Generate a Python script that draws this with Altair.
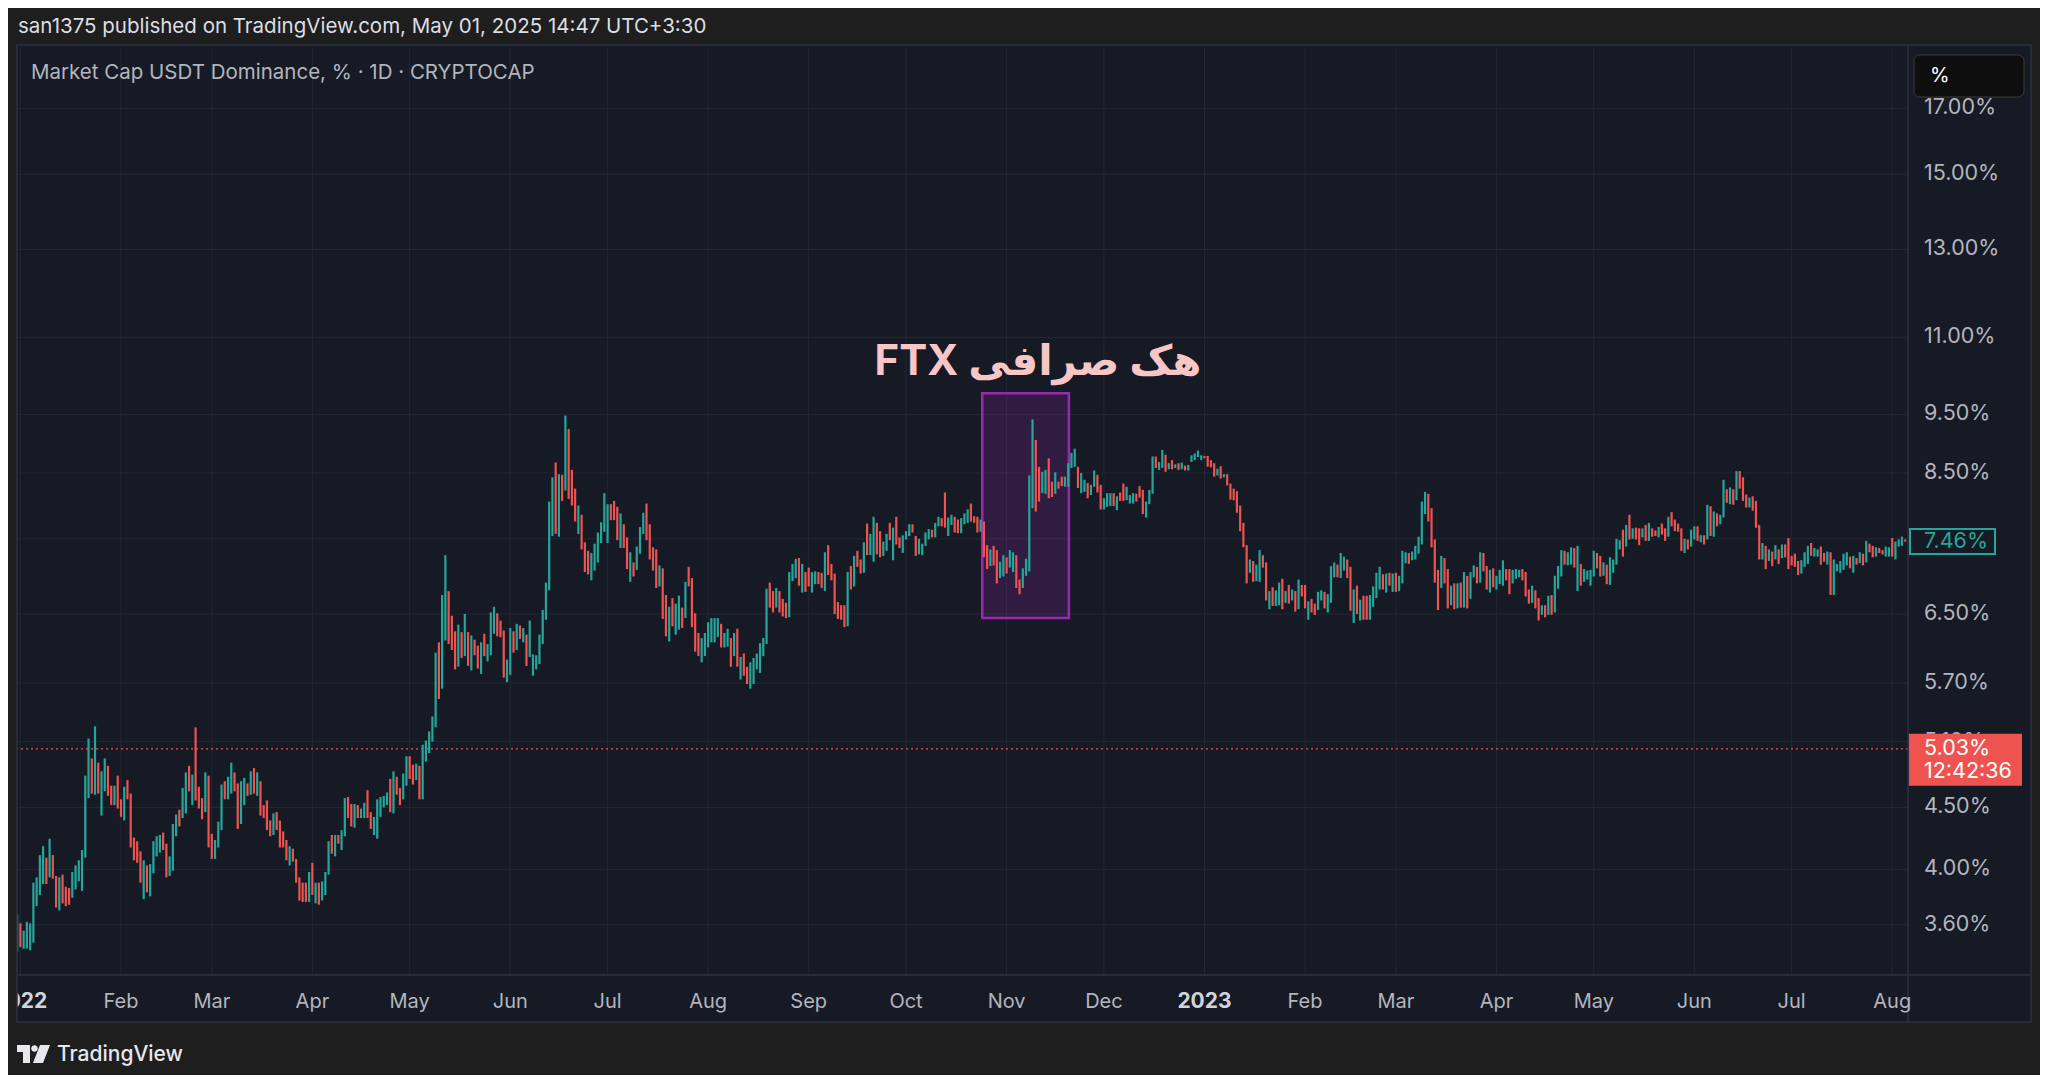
import altair as alt
import numpy as np
import pandas as pd

# ---------------- data: daily candles (open %, close %) ----------------
dec21 = [(3.42, 3.67)]
jan22 = [(3.61, 3.45), (3.44, 3.56), (3.44, 3.62), (3.43, 3.61), (3.48, 3.90), (3.73, 3.94), (3.81, 4.11),
         (3.89, 4.18), (4.09, 3.89), (3.94, 4.24), (4.11, 3.93), (3.95, 3.72), (3.70, 3.94), (3.96, 3.75),
         (3.87, 3.73), (3.86, 3.74), (3.79, 3.98), (3.85, 4.03), (3.91, 4.07), (3.84, 4.15), (4.09, 4.78),
         (4.58, 5.13), (4.94, 4.62), (4.61, 5.25), (4.90, 4.62), (4.43, 4.82), (4.64, 4.94), (4.87, 4.60),
         (4.69, 4.52), (4.52, 4.69), (4.78, 4.49)]
feb22 = [(4.57, 4.42), (4.39, 4.68), (4.74, 4.57), (4.62, 4.17), (4.25, 4.07), (4.22, 4.05), (4.14, 3.90),
         (3.78, 4.07), (4.03, 3.83), (3.80, 4.04), (3.97, 4.22), (4.10, 4.26), (4.13, 4.27), (4.29, 4.15),
         (4.20, 3.94), (3.95, 4.10), (3.99, 4.36), (4.26, 4.44), (4.48, 4.34), (4.41, 4.67), (4.45, 4.81),
         (4.87, 4.64), (4.52, 4.79), (5.24, 4.56), (4.68, 4.49), (4.58, 4.40), (4.46, 4.81), (4.78, 4.17)]
mar22 = [(4.28, 4.08), (4.08, 4.23), (4.17, 4.38), (4.31, 4.70), (4.73, 4.57), (4.57, 4.77), (4.62, 4.90),
         (4.81, 4.64), (4.71, 4.32), (4.36, 4.73), (4.52, 4.76), (4.71, 4.60), (4.61, 4.82), (4.85, 4.62),
         (4.60, 4.81), (4.73, 4.43), (4.52, 4.41), (4.56, 4.31), (4.39, 4.26), (4.27, 4.45), (4.46, 4.31),
         (4.39, 4.17), (4.30, 4.17), (4.23, 4.07), (4.03, 4.18), (4.16, 4.06), (4.08, 3.90), (3.94, 3.77),
         (3.90, 3.76), (3.90, 3.76), (3.76, 3.98)]
apr22 = [(4.05, 3.81), (3.75, 3.90), (3.90, 3.74), (3.77, 3.91), (3.81, 3.98), (3.96, 4.22), (4.27, 4.12),
         (4.10, 4.27), (4.27, 4.20), (4.15, 4.31), (4.26, 4.58), (4.59, 4.41), (4.53, 4.34), (4.33, 4.53),
         (4.52, 4.41), (4.41, 4.49), (4.41, 4.54), (4.65, 4.41), (4.46, 4.32), (4.27, 4.42), (4.24, 4.57),
         (4.42, 4.59), (4.50, 4.60), (4.52, 4.63), (4.75, 4.46), (4.45, 4.82), (4.77, 4.61), (4.67, 4.52),
         (4.57, 4.80), (4.69, 4.96)]
may22 = [(4.96, 4.75), (4.88, 4.70), (4.74, 4.89), (4.87, 4.57), (4.57, 5.07), (4.91, 5.11), (4.99, 5.20),
         (5.10, 5.35), (5.24, 6.04), (6.16, 5.53), (5.64, 6.74), (6.18, 7.27), (6.79, 6.14), (6.48, 6.07),
         (6.29, 5.85), (5.88, 6.37), (6.28, 5.98), (6.00, 6.50), (6.28, 5.89), (5.84, 6.24), (6.19, 6.01),
         (6.12, 5.86), (5.80, 6.16), (6.26, 6.00), (5.94, 6.14), (6.01, 6.52), (6.26, 6.59), (6.51, 6.23),
         (6.42, 6.22), (6.30, 5.76), (5.71, 5.96)]
jun22 = [(5.79, 6.33), (6.29, 6.04), (6.07, 6.38), (6.36, 6.20), (6.16, 6.33), (6.25, 5.89), (5.99, 6.42),
         (5.78, 6.02), (5.85, 6.01), (5.91, 6.25), (6.14, 6.55), (6.43, 6.90), (6.80, 8.05), (7.54, 8.43),
         (8.67, 7.57), (7.53, 8.48), (8.47, 8.06), (8.22, 9.48), (9.24, 8.09), (8.55, 7.99), (8.25, 7.75),
         (7.57, 7.99), (7.85, 7.35), (7.45, 7.04), (7.33, 7.01), (6.93, 7.30), (7.06, 7.43), (7.17, 7.59),
         (7.44, 7.74), (7.60, 8.18)]
jul22 = [(7.44, 8.01), (8.01, 7.77), (8.06, 7.77), (7.97, 7.48), (7.37, 7.87), (7.71, 7.37), (7.52, 7.08),
         (6.91, 7.31), (7.17, 6.98), (7.07, 7.39), (7.29, 7.67), (7.57, 7.88), (8.02, 7.48), (7.71, 7.21),
         (7.38, 7.06), (7.35, 6.83), (6.85, 7.13), (7.09, 6.44), (6.74, 6.23), (6.17, 6.59), (6.70, 6.35),
         (6.25, 6.63), (6.31, 6.73), (6.58, 6.33), (6.45, 6.91), (7.11, 6.85), (6.96, 6.34), (6.51, 6.05),
         (6.27, 6.00), (5.93, 6.21), (6.00, 6.27)]
aug22 = [(6.10, 6.40), (6.16, 6.45), (6.16, 6.45), (6.22, 6.45), (6.38, 6.10), (6.10, 6.27), (6.11, 6.32),
         (6.21, 5.88), (6.00, 6.27), (6.32, 5.88), (5.74, 5.99), (6.03, 5.78), (5.88, 5.69), (5.64, 5.93),
         (5.69, 5.98), (5.85, 6.03), (5.81, 6.15), (6.00, 6.21), (6.14, 6.82), (6.90, 6.58), (6.79, 6.52),
         (6.58, 6.83), (6.79, 6.52), (6.69, 6.47), (6.64, 6.45), (6.46, 7.04), (6.92, 7.15), (6.96, 7.22),
         (7.23, 6.86), (6.77, 7.15), (7.04, 6.78)]
sep22 = [(7.10, 6.85), (6.77, 7.04), (6.88, 7.05), (7.04, 6.88), (7.03, 6.83), (6.79, 7.31), (7.41, 7.00),
         (7.15, 6.93), (7.02, 6.50), (6.65, 6.44), (6.61, 6.43), (6.61, 6.34), (6.35, 7.04), (7.12, 6.81),
         (6.85, 7.26), (7.33, 7.11), (7.21, 7.02), (7.03, 7.45), (7.72, 7.27), (7.27, 7.57), (7.18, 7.82),
         (7.73, 7.28), (7.61, 7.24), (7.26, 7.46), (7.33, 7.57), (7.73, 7.48), (7.20, 7.66), (7.82, 7.42),
         (7.52, 7.37), (7.30, 7.55)]
oct22 = [(7.49, 7.61), (7.54, 7.71), (7.71, 7.59), (7.54, 7.26), (7.28, 7.50), (7.27, 7.43), (7.40, 7.59),
         (7.49, 7.64), (7.63, 7.52), (7.52, 7.73), (7.68, 7.82), (7.80, 7.68), (8.19, 7.66), (7.54, 7.81),
         (7.70, 7.85), (7.82, 7.59), (7.78, 7.58), (7.58, 7.80), (7.71, 7.87), (7.73, 7.93), (8.02, 7.75),
         (7.83, 7.73), (7.82, 7.59), (7.60, 7.78), (7.75, 7.24), (7.41, 7.08), (7.12, 7.35), (7.40, 7.13),
         (7.34, 6.89), (6.96, 7.18), (6.98, 7.27)]
nov22 = [(7.24, 7.02), (7.10, 7.34), (7.04, 7.31), (7.27, 6.83), (6.94, 6.75), (6.83, 7.09), (6.99, 7.22),
         (7.05, 8.46), (7.95, 9.41), (9.05, 7.90), (8.60, 8.05), (8.18, 8.52), (8.17, 8.55), (8.74, 8.10),
         (8.36, 8.12), (8.17, 8.51), (8.36, 8.25), (8.44, 8.29), (8.28, 8.44), (8.28, 8.66), (8.58, 8.83),
         (8.60, 8.90), (8.60, 8.26), (8.18, 8.50), (8.20, 8.39), (8.34, 8.10), (8.15, 8.31), (8.28, 8.54),
         (8.47, 8.19), (8.31, 7.93)]
dec22 = [(7.93, 8.10), (7.97, 8.18), (7.98, 8.18), (8.18, 7.98), (7.92, 8.13), (8.19, 8.06), (8.33, 8.06),
         (8.07, 8.28), (8.02, 8.15), (8.02, 8.18), (8.17, 8.05), (8.29, 8.11), (8.23, 7.86), (7.81, 8.05),
         (8.01, 8.23), (8.17, 8.77), (8.77, 8.58), (8.55, 8.68), (8.58, 8.88), (8.80, 8.52), (8.56, 8.66),
         (8.71, 8.56), (8.58, 8.64), (8.66, 8.55), (8.56, 8.67), (8.62, 8.54), (8.54, 8.63), (8.68, 8.79),
         (8.71, 8.82), (8.76, 8.87), (8.71, 8.79)]
jan23 = [(8.78, 8.74), (8.78, 8.60), (8.71, 8.59), (8.66, 8.44), (8.46, 8.57), (8.61, 8.41), (8.43, 8.48),
         (8.48, 8.30), (8.33, 8.08), (8.25, 8.07), (8.21, 7.88), (7.99, 7.61), (7.73, 7.38), (7.41, 6.89),
         (7.03, 7.21), (7.19, 6.91), (6.92, 7.14), (6.91, 7.34), (7.27, 7.10), (7.17, 6.67), (6.56, 6.79),
         (6.84, 6.60), (6.60, 6.80), (6.61, 6.90), (6.95, 6.56), (6.64, 6.79), (6.87, 6.63), (6.67, 6.81),
         (6.79, 6.53), (6.56, 6.94), (6.87, 6.72)]
feb23 = [(6.87, 6.57), (6.43, 6.66), (6.69, 6.52), (6.63, 6.49), (6.55, 6.78), (6.67, 6.80), (6.78, 6.57),
         (6.52, 6.75), (6.64, 7.12), (6.97, 7.17), (7.14, 6.97), (6.96, 7.30), (7.06, 7.25), (7.21, 6.96),
         (7.11, 6.54), (6.39, 6.81), (6.86, 6.50), (6.42, 6.68), (6.73, 6.43), (6.73, 6.43), (6.43, 6.74),
         (6.59, 6.85), (6.70, 7.03), (6.81, 7.11), (7.01, 6.81), (6.77, 7.02), (7.03, 6.86), (6.78, 7.02)]
mar23 = [(7.03, 6.78), (6.79, 6.99), (6.89, 7.33), (7.16, 7.31), (7.30, 7.15), (7.20, 7.32), (7.21, 7.40),
         (7.29, 7.53), (7.42, 8.05), (7.86, 8.20), (8.17, 7.75), (7.95, 7.38), (7.49, 6.90), (7.07, 6.55),
         (6.83, 7.26), (7.23, 6.89), (7.08, 6.57), (6.61, 6.86), (6.89, 6.56), (6.57, 6.89), (6.90, 6.58),
         (6.58, 7.04), (6.99, 6.57), (6.69, 7.04), (6.97, 7.13), (7.11, 6.89), (6.90, 7.31), (7.30, 7.05),
         (7.12, 6.81), (6.77, 7.07), (7.09, 6.84)]
apr23 = [(6.81, 6.99), (6.88, 7.07), (6.86, 7.20), (7.08, 6.93), (7.08, 6.75), (6.89, 7.07), (6.95, 7.08),
         (6.97, 7.07), (7.08, 6.93), (7.04, 6.72), (6.81, 6.63), (6.64, 6.86), (6.80, 6.57), (6.70, 6.42),
         (6.49, 6.61), (6.61, 6.46), (6.49, 6.73), (6.74, 6.49), (6.52, 6.99), (6.82, 7.12), (6.98, 7.34),
         (7.33, 7.14), (7.13, 7.31), (7.14, 7.38), (7.37, 7.10), (6.79, 7.40), (7.15, 6.86), (6.91, 7.08),
         (6.94, 7.06), (6.86, 7.07)]
may23 = [(6.98, 7.33), (7.30, 7.09), (7.26, 6.98), (6.99, 7.17), (7.14, 6.88), (6.87, 7.24), (7.03, 7.21),
         (7.14, 7.50), (7.35, 7.48), (7.63, 7.25), (7.39, 7.70), (7.85, 7.49), (7.50, 7.65), (7.66, 7.49),
         (7.65, 7.41), (7.52, 7.65), (7.70, 7.47), (7.47, 7.73), (7.65, 7.53), (7.62, 7.54), (7.52, 7.67),
         (7.72, 7.56), (7.65, 7.47), (7.53, 7.82), (7.89, 7.68), (7.78, 7.61), (7.72, 7.60), (7.65, 7.33),
         (7.30, 7.50), (7.49, 7.35), (7.39, 7.63)]
jun23 = [(7.49, 7.68), (7.68, 7.47), (7.45, 7.55), (7.55, 7.42), (7.49, 8.00), (7.98, 7.54), (7.53, 7.90),
         (7.87, 7.68), (7.71, 7.85), (7.81, 8.39), (8.24, 8.03), (8.01, 8.27), (8.24, 8.00), (8.07, 8.53),
         (8.53, 8.25), (8.43, 8.06), (8.16, 7.96), (7.96, 8.11), (8.13, 7.91), (8.06, 7.66), (7.70, 7.21),
         (7.21, 7.44), (7.40, 7.08), (7.19, 7.35), (7.32, 7.12), (7.21, 7.41), (7.35, 7.15), (7.23, 7.42),
         (7.42, 7.24), (7.51, 7.08)]
jul23 = [(7.26, 7.13), (7.29, 7.11), (7.19, 7.00), (7.02, 7.20), (7.11, 7.31), (7.15, 7.40), (7.44, 7.26),
         (7.25, 7.37), (7.25, 7.35), (7.39, 7.14), (7.30, 7.18), (7.14, 7.32), (7.31, 6.74), (6.74, 7.21),
         (7.05, 7.15), (7.03, 7.19), (7.07, 7.29), (7.13, 7.31), (7.25, 7.09), (7.03, 7.26), (7.23, 7.14),
         (7.16, 7.31), (7.29, 7.13), (7.17, 7.47), (7.43, 7.31), (7.40, 7.24), (7.25, 7.38), (7.37, 7.30),
         (7.34, 7.28), (7.25, 7.39), (7.25, 7.38)]
aug23 = [(7.51, 7.25), (7.21, 7.46), (7.39, 7.49), (7.40, 7.53), (7.49, 7.46)]

segments = [dec21, jan22, feb22, mar22, apr22, may22, jun22, jul22, aug22, sep22, oct22, nov22, dec22,
            jan23, feb23, mar23, apr23, may23, jun23, jul23, aug23]
first_day = "2021-12-31"

price_ticks = [17.0, 15.0, 13.0, 11.0, 9.5, 8.5, 7.5, 6.5, 5.7, 5.1, 4.5, 4.0, 3.6]
month_ticks = ["2022-01-01", "2022-02-01", "2022-03-01", "2022-04-01", "2022-05-01", "2022-06-01",
               "2022-07-01", "2022-08-01", "2022-09-01", "2022-10-01", "2022-11-01", "2022-12-01",
               "2023-01-01", "2023-02-01", "2023-03-01", "2023-04-01", "2023-05-01", "2023-06-01",
               "2023-07-01", "2023-08-01"]
month_labels = ["2022", "Feb", "Mar", "Apr", "May", "Jun", "Jul", "Aug", "Sep", "Oct", "Nov", "Dec",
                "2023", "Feb", "Mar", "Apr", "May", "Jun", "Jul", "Aug"]

box_start, box_end = "2022-10-24T12:00:00", "2022-11-20T05:00:00"
box_low, box_high = 6.45, 9.89
note_text = "هک صرافی FTX"
note_date, note_value = "2022-11-10T16:00:00", 10.24
current_price, countdown = 5.03, "12:42:36"

header_text = "san1375 published on TradingView.com, May 01, 2025 14:47 UTC+3:30"
legend_text = "Market Cap USDT Dominance, % · 1D · CRYPTOCAP"

# ---------------- styling ----------------
UP, DOWN = "#26a69a", "#ef5350"
PANEL, OUTER = "#161a25", "#1e1e1e"
GRID, BORDER = "#232734", "#2e3240"
LABEL = "#b2b5be"
FONT = "Inter"
DAY = 86400000


def ms(s):
    return int(pd.Timestamp(s).value // 10**6)


pairs = [p for seg in segments for p in seg]
dates = pd.date_range(first_day, periods=len(pairs), freq="D")
df = pd.DataFrame({
    "t": [ms(d) for d in dates],
    "open": [p[0] for p in pairs],
    "close": [p[1] for p in pairs],
})
df["dir"] = np.where(df["close"] >= df["open"], "up", "down")

W, H = 1891, 928
x0 = ms("2022-01-01") - 1.048 * DAY
x1 = ms("2022-01-01") + 581.87 * DAY
xscale = alt.Scale(type="utc", domain=[x0, x1], nice=False)
yscale = alt.Scale(type="log", domain=[3.2722, 19.105], nice=False, zero=False)

one = pd.DataFrame({"k": [0]})


def rect(x, x2, y, y2, **kw):
    return alt.Chart(one).mark_rect(**kw).encode(
        x=alt.value(x), x2=alt.value(x2), y=alt.value(y), y2=alt.value(y2))


def line(x, x2, y, y2, **kw):
    return alt.Chart(one).mark_rule(**kw).encode(
        x=alt.value(x), x2=alt.value(x2), y=alt.value(y), y2=alt.value(y2))


def text(x, y, s, **kw):
    return alt.Chart(one).mark_text(text=s, **kw).encode(x=alt.value(x), y=alt.value(y))


ticks_df = pd.DataFrame({"v": price_ticks, "lab": [f"{v:.2f}%" for v in price_ticks]})
months_df = pd.DataFrame({"t": [ms(m) for m in month_ticks], "lab": month_labels,
                          "year": [lab.isdigit() for lab in month_labels]})

hgrid = alt.Chart(ticks_df).mark_rule(color=GRID, strokeWidth=1).encode(
    y=alt.Y("v:Q", scale=yscale, axis=None))
vgrid = alt.Chart(months_df).mark_rule(color=GRID, strokeWidth=1).encode(
    x=alt.X("t:T", scale=xscale, axis=None))

price_df = pd.DataFrame({"v": [current_price]})
dotted = alt.Chart(price_df).mark_rule(color=DOWN, strokeWidth=1.2, strokeDash=[2, 3]).encode(
    y=alt.Y("v:Q", scale=yscale, axis=None))

box_df = pd.DataFrame({"t1": [ms(box_start)], "t2": [ms(box_end)], "lo": [box_low], "hi": [box_high]})
box = alt.Chart(box_df).mark_rect(fill="#9c27b0", fillOpacity=0.2, stroke="#9c27b0", strokeWidth=2.5).encode(
    x=alt.X("t1:T", scale=xscale, axis=None), x2="t2:T",
    y=alt.Y("lo:Q", scale=yscale, axis=None), y2="hi:Q")

candles = alt.Chart(df).mark_rule(strokeWidth=2.2).encode(
    x=alt.X("t:T", scale=xscale, axis=None),
    y=alt.Y("open:Q", scale=yscale, axis=None),
    y2="close:Q",
    color=alt.Color("dir:N", scale=alt.Scale(domain=["up", "down"], range=[UP, DOWN]), legend=None),
)

# right-to-left embedding so the Persian phrase reads right-to-left with FTX on the left
note_df = pd.DataFrame({"t": [ms(note_date)], "v": [note_value], "lab": ["\u202b" + note_text + "\u202c"]})
note = alt.Chart(note_df).mark_text(font=f"{FONT}, DejaVu Sans", fontSize=42,
                                    fontWeight="bold", color="#f7c6c7", align="center",
                                    baseline="alphabetic").encode(
    x=alt.X("t:T", scale=xscale, axis=None), y=alt.Y("v:Q", scale=yscale, axis=None), text="lab:N")

legend = text(14, 26, legend_text, font=FONT, fontSize=20.5, color=LABEL, align="left", baseline="middle")

sep_v = line(W, W, -2, 975, color=BORDER, strokeWidth=1.5)
sep_h = line(0, 2014, H, H, color=BORDER, strokeWidth=1.5)

price_labels = alt.Chart(ticks_df).mark_text(font=FONT, fontSize=21.5, color=LABEL, align="left",
                                             baseline="middle").encode(
    y=alt.Y("v:Q", scale=yscale, axis=None), x=alt.value(1907), text="lab:N")

month_text = alt.Chart(months_df).transform_filter("!datum.year").mark_text(
    font=FONT, fontSize=20, color=LABEL, align="center", baseline="middle").encode(
    x=alt.X("t:T", scale=xscale, axis=None), y=alt.value(955), text="lab:N")
year_text = alt.Chart(months_df).transform_filter("datum.year").mark_text(
    font=FONT, fontSize=21, fontWeight="bold", color="#d1d4dc", align="center", baseline="middle").encode(
    x=alt.X("t:T", scale=xscale, axis=None), y=alt.value(955), text="lab:N")

last_df = pd.DataFrame({"v": [df["close"].iloc[-1]], "lab": [f"{df['close'].iloc[-1]:.2f}%"]})
tag_last_outer = alt.Chart(last_df).mark_rule(color=UP, strokeWidth=27).encode(
    y=alt.Y("v:Q", scale=yscale, axis=None), x=alt.value(1892), x2=alt.value(1979))
tag_last_inner = alt.Chart(last_df).mark_rule(color=PANEL, strokeWidth=23).encode(
    y=alt.Y("v:Q", scale=yscale, axis=None), x=alt.value(1894), x2=alt.value(1977))
tag_last_text = alt.Chart(last_df).mark_text(font=FONT, fontSize=21.5, color=UP, align="left",
                                             baseline="middle").encode(
    y=alt.Y("v:Q", scale=yscale, axis=None), x=alt.value(1907), text="lab:N")

cur_df = pd.DataFrame({"v": [current_price], "lab": [f"{current_price:.2f}%"], "cd": [countdown]})
tag_cur = alt.Chart(cur_df).mark_rule(color=DOWN, strokeWidth=52, yOffset=11).encode(
    y=alt.Y("v:Q", scale=yscale, axis=None), x=alt.value(1892), x2=alt.value(2005))
tag_cur_text = alt.Chart(cur_df).mark_text(font=FONT, fontSize=21.5, color="#ffffff", align="left",
                                           baseline="middle").encode(
    y=alt.Y("v:Q", scale=yscale, axis=None), x=alt.value(1907), text="lab:N")
tag_cur_cd = alt.Chart(cur_df).mark_text(font=FONT, fontSize=21.5, color="#ffffff", align="left",
                                         baseline="middle", dy=23).encode(
    y=alt.Y("v:Q", scale=yscale, axis=None), x=alt.value(1907), text="cd:N")

pct_box = rect(1897, 2007, 8, 50, fill="#0e0e0e", stroke="#3a3a3a", strokeWidth=1, cornerRadius=6)
pct_text = text(1913, 29, "%", font=FONT, fontSize=20, color="#ffffff", align="left", baseline="middle")

frame = [
    rect(-9, 2023, -39, -2, fill=OUTER),
    rect(-9, 0, -39, 1028, fill=OUTER),
    rect(2014, 2023, -39, 1028, fill=OUTER),
    rect(-9, 2023, 975, 1028, fill=OUTER),
]
panel_border = rect(0, 2014, -2, 975, fill="transparent", stroke=BORDER, strokeWidth=1.5)

header = text(1, -20, header_text, font=FONT, fontSize=20.5, color="#dcdee4", align="left", baseline="middle")
logo_path = ("M0,0H13V18H6V7H0Z M14.2,3.5A3.3,3.3,0,1,0,20.8,3.5A3.3,3.3,0,1,0,14.2,3.5Z "
             "M23,0H33L26,18H16Z")
logo = alt.Chart(one).mark_point(shape=logo_path, size=4, filled=True, fill="#e6e8ee", opacity=1,
                                 strokeWidth=0).encode(x=alt.value(0), y=alt.value(998))
footer = text(40, 1008, "TradingView", font=FONT, fontSize=21, fontWeight=500, color="#e6e8ee",
              align="left", baseline="middle")

chart = alt.layer(
    hgrid, vgrid, dotted, box, candles, note, legend, sep_v, sep_h,
    price_labels, month_text, year_text,
    tag_last_outer, tag_last_inner, tag_last_text,
    tag_cur, tag_cur_text, tag_cur_cd,
    pct_box, pct_text,
    *frame, panel_border, header, logo, footer,
).properties(
    width=W, height=H,
    padding={"left": 9, "top": 39, "right": 132, "bottom": 100},
    autosize=alt.AutoSizeParams(type="none"),
).configure(background=PANEL).configure_view(stroke=None)

chart.save("out.html", embed_options={"renderer": "svg", "actions": False})
